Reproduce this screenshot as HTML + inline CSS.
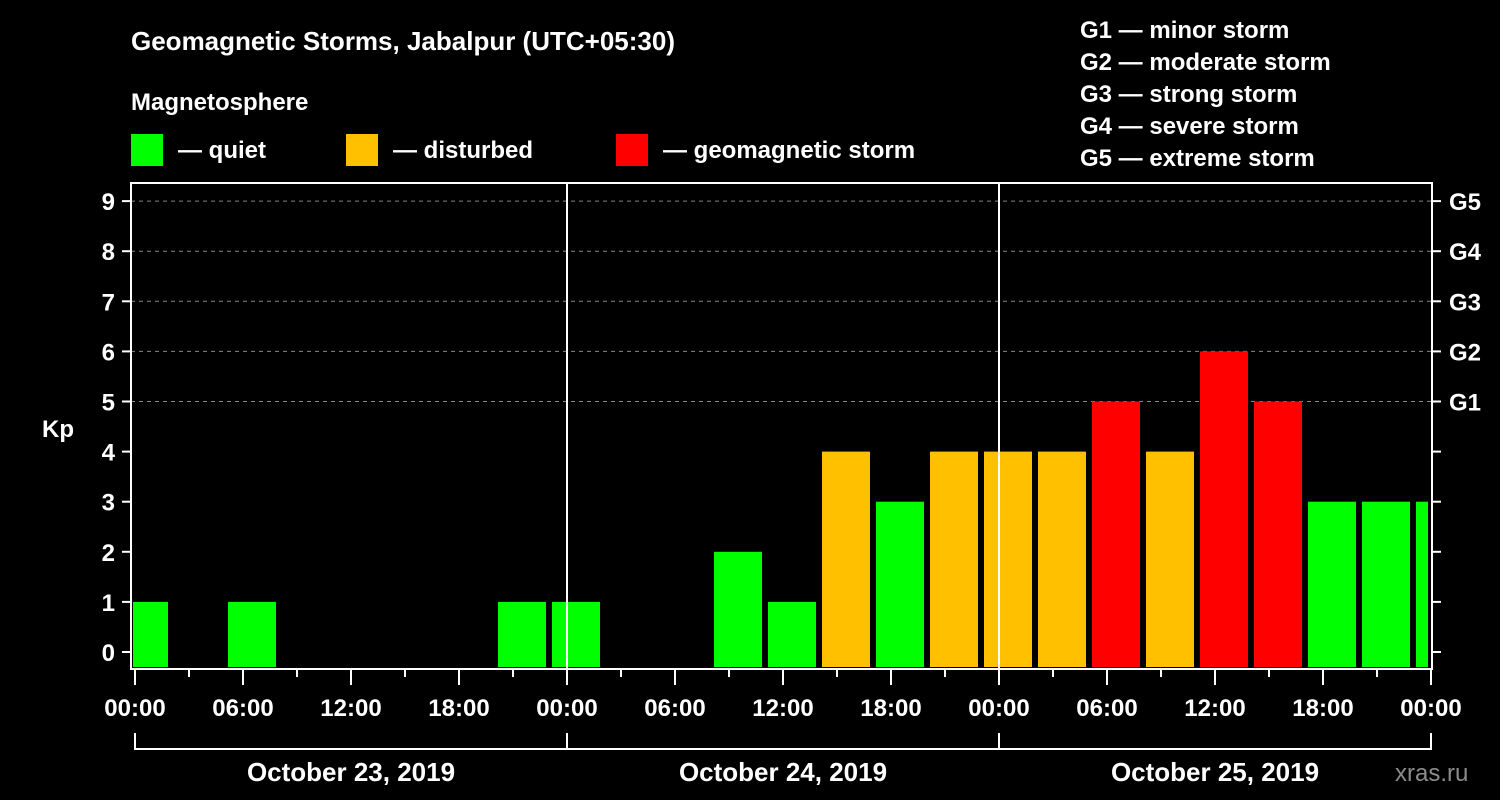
<!DOCTYPE html>
<html><head><meta charset="utf-8"><style>
html,body{margin:0;padding:0;background:#000;}
svg{display:block;font-family:"Liberation Sans",Arial,sans-serif;font-weight:bold;}
</style></head><body>
<svg id="chart" width="1500" height="800" viewBox="0 0 1500 800">
<rect x="0" y="0" width="1500" height="800" fill="#000"/>
<text x="131" y="50" fill="#fff" font-size="26">Geomagnetic Storms, Jabalpur (UTC+05:30)</text>
<text x="131" y="110" fill="#fff" font-size="24">Magnetosphere</text>
<g><rect x="131" y="134" width="32" height="32" fill="#00ff00"/><text x="178" y="158" fill="#fff" font-size="24">— quiet</text></g>
<g><rect x="346" y="134" width="32" height="32" fill="#ffc000"/><text x="393" y="158" fill="#fff" font-size="24">— disturbed</text></g>
<g><rect x="616" y="134" width="32" height="32" fill="#ff0000"/><text x="663" y="158" fill="#fff" font-size="24">— geomagnetic storm</text></g>
<g fill="#fff" font-size="24">
<text x="1080" y="38">G1 — minor storm</text>
<text x="1080" y="70">G2 — moderate storm</text>
<text x="1080" y="102">G3 — strong storm</text>
<text x="1080" y="134">G4 — severe storm</text>
<text x="1080" y="166">G5 — extreme storm</text>
</g>
<defs><clipPath id="plotclip"><rect x="133" y="183" width="1295" height="485"/></clipPath></defs>
<g id="grid"></g>
<g id="bars" clip-path="url(#plotclip)"></g>
<g id="axes"></g>
<text x="42" y="437" fill="#fff" font-size="24">Kp</text>
<text x="1395" y="781" fill="#8c8c8c" font-size="24" font-weight="normal">xras.ru</text>
</svg>
<script>
const kpValues = [1,0,1,0,0,0,0,1, 1,0,0,2,1,4,3,4, 4,4,5,4,6,5,3,3, 3];
const yTicks = [0,1,2,3,4,5,6,7,8,9];
const gLabels = ['G1','G2','G3','G4','G5'];
const gLevels = [5,6,7,8,9];
const hourLabels = ['00:00','06:00','12:00','18:00'];
const dayLabels = ['October 23, 2019','October 24, 2019','October 25, 2019'];

const NS='http://www.w3.org/2000/svg';
const X0=135, PXH=18, Y0=652, PXK=50.1, LEFT=131, RIGHT=1432, TOP=183, BOTTOM=669;
const xs=h=>X0+h*PXH, ys=v=>Y0-v*PXK;
function mk(tag,attrs,parent){const e=document.createElementNS(NS,tag);for(const k in attrs)e.setAttribute(k,attrs[k]);document.getElementById(parent).appendChild(e);return e;}

gLevels.forEach((v,i)=>{
  const l=mk('line',{x1:LEFT,x2:RIGHT,y1:ys(v),y2:ys(v),stroke:'#888','stroke-dasharray':'4,4','stroke-width':1},'grid');
  
  
  const t=mk('text',{x:1449,y:ys(v)+9,fill:'#fff','font-size':24},'axes');
  t.textContent=gLabels[i];
  
  
});

kpValues.forEach((v,i)=>{
  if(v<=0) return;
  const c=v>=5?'#ff0000':(v>=4?'#ffc000':'#00ff00');
  const cx=xs(0.5+3*i);
  const r=mk('rect',{x:cx-24,y:ys(v),width:48,height:667-ys(v),fill:c},'bars');
  
  
});

const fr=mk('rect',{x:LEFT,y:TOP,width:RIGHT-LEFT,height:BOTTOM-TOP,fill:'none',stroke:'#fff','stroke-width':2},'axes');


[1,2].forEach(d=>{
  const l=mk('line',{x1:xs(24*d),x2:xs(24*d),y1:TOP,y2:BOTTOM,stroke:'#fff','stroke-width':2},'axes');
  
  
});
yTicks.forEach(v=>{
  mk('line',{x1:122,x2:LEFT,y1:ys(v),y2:ys(v),stroke:'#fff','stroke-width':2},'axes');
  mk('line',{x1:RIGHT,x2:1441,y1:ys(v),y2:ys(v),stroke:'#fff','stroke-width':2},'axes');
  const t=mk('text',{x:115,y:ys(v)+9,fill:'#fff','font-size':24,'text-anchor':'end'},'axes');
  t.textContent=v;
  
  
});
for(let h=0;h<=72;h+=3){
  const major=h%6===0;
  mk('line',{x1:xs(h),x2:xs(h),y1:BOTTOM,y2:major?685:677,stroke:'#fff','stroke-width':2},'axes');
  if(major){
    const t=mk('text',{x:xs(h),y:716,fill:'#fff','font-size':24,'text-anchor':'middle'},'axes');
    t.textContent=hourLabels[(h/6)%4];
    
    
  }
}
dayLabels.forEach((d,i)=>{
  const a=xs(24*i), b=xs(24*(i+1));
  mk('path',{d:`M${a},733 V749 H${b} V733`,fill:'none',stroke:'#fff','stroke-width':2},'axes');
  const t=mk('text',{x:(a+b)/2,y:781,fill:'#fff','font-size':26,'text-anchor':'middle'},'axes');
  t.textContent=d;
  
  
});
</script>
</body></html>
